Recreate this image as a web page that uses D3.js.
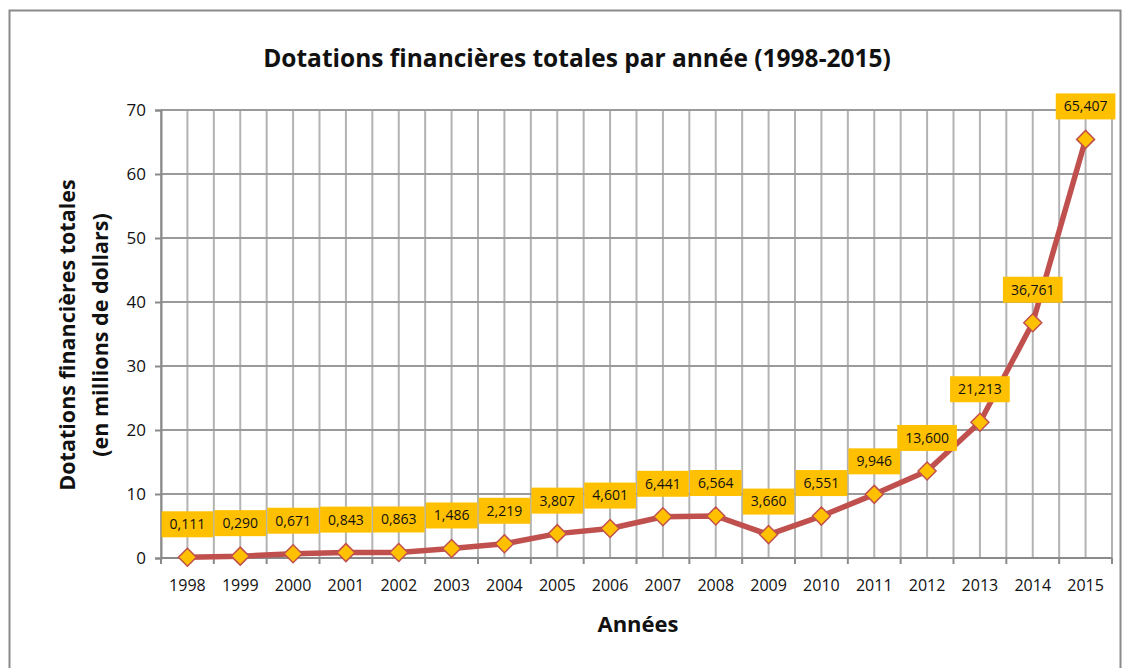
<!DOCTYPE html>
<html>
<head>
<meta charset="utf-8">
<script src="https://d3js.org/d3.v7.min.js"></script>
<style>
  body { margin: 0; background: #fff; }
  text { font-family: "Open Sans", Lato, sans-serif; fill: #111; }
</style>
</head>
<body>
<svg width="1134" height="668"></svg>
<script>
// data
const years = ["1998","1999","2000","2001","2002","2003","2004","2005","2006",
               "2007","2008","2009","2010","2011","2012","2013","2014","2015"];
const dotations = [0.111, 0.290, 0.671, 0.843, 0.863, 1.486, 2.219, 3.807, 4.601,
                   6.441, 6.564, 3.660, 6.551, 9.946, 13.600, 21.213, 36.761, 65.407];
const yTicks = [0, 10, 20, 30, 40, 50, 60, 70];

const svg = d3.select("svg");
const pLeft = 161, pRight = 1112, pTop = 110, pBottom = 558;
const red = "#c0504d", gold = "#ffc000";

// outer frame
svg.append("rect")
  .attr("x", 9.5).attr("y", 10.5)
  .attr("width", 1111).attr("height", 700)
  .attr("fill", "#fff").attr("stroke", "#8a8a8a").attr("stroke-width", 2);

var x = d3.scaleBand().domain(years).range([pLeft, pRight]);
var y = d3.scaleLinear().domain([0, 70]).range([pBottom, pTop]);

// vertical grid: boundaries and centres
var vx = [];
years.forEach(function(d) { vx.push(x(d)); vx.push(x(d) + x.bandwidth() / 2); });
vx.push(pRight);
svg.append("g").selectAll("line")
  .data(vx).enter().append("line")
  .attr("x1", d => d).attr("x2", d => d)
  .attr("y1", pTop).attr("y2", pBottom)
  .attr("stroke", "#b3b3b3").attr("stroke-width", 2);

// horizontal grid
svg.append("g").selectAll("line")
  .data(yTicks.slice(1)).enter().append("line")
  .attr("x1", pLeft).attr("x2", pRight)
  .attr("y1", d => y(d)).attr("y2", d => y(d))
  .attr("stroke", "#9a9a9a").attr("stroke-width", 2);

// y axis
var yAx = svg.append("g")
  .attr("transform", "translate(" + pLeft + ",0)")
  .call(d3.axisLeft(y).tickValues(yTicks).tickSize(6).tickPadding(9));
yAx.select(".domain").attr("stroke", "#8a8a8a").attr("stroke-width", 2);
yAx.selectAll(".tick line").attr("stroke", "#8a8a8a").attr("stroke-width", 2);
yAx.selectAll("text").style("font-size", "17px").attr("fill", "#111");

// x axis: ticks on category boundaries
var xAx = svg.append("g").attr("transform", "translate(0," + pBottom + ")");
xAx.append("line")
  .attr("x1", pLeft).attr("x2", pRight).attr("y1", 0).attr("y2", 0)
  .attr("stroke", "#8a8a8a").attr("stroke-width", 2);
xAx.selectAll(".tk")
  .data(years.map(d => x(d)).concat([pRight])).enter().append("line")
  .attr("x1", d => d).attr("x2", d => d).attr("y1", 0).attr("y2", 6)
  .attr("stroke", "#8a8a8a").attr("stroke-width", 2);
xAx.selectAll(".lbl")
  .data(years).enter().append("text")
  .attr("x", d => x(d) + x.bandwidth() / 2)
  .attr("y", 33)
  .attr("text-anchor", "middle")
  .style("font-size", "16px")
  .text(d => d);

// line
var cx = d => x(d.year) + x.bandwidth() / 2;
var pts = years.map((d, i) => ({year: d, v: dotations[i]}));
svg.append("path")
  .datum(pts)
  .attr("d", d3.line().x(cx).y(d => y(d.v)))
  .attr("fill", "none").attr("stroke", red)
  .attr("stroke-width", 5.5).attr("stroke-linejoin", "round");

// diamonds
svg.append("g").selectAll("path")
  .data(pts).enter().append("path")
  .attr("transform", d => "translate(" + cx(d) + "," + y(d.v) + ")")
  .attr("d", "M0,-9L9,0L0,9L-9,0Z")
  .attr("fill", gold).attr("stroke", red).attr("stroke-width", 1.5);

// data labels in gold boxes
var fr = d3.formatLocale({decimal: ",", thousands: " ", grouping: [3], currency: ["", ""]}).format(".3f");
var lab = svg.append("g").selectAll("g")
  .data(pts).enter().append("g")
  .attr("transform", d => "translate(" + cx(d) + "," + (y(d.v) - 33) + ")");
lab.append("text")
  .attr("text-anchor", "middle")
  .attr("dy", "0.35em")
  .style("font-size", "14px")
  .text(d => fr(d.v));
lab.each(function() {
  var g = d3.select(this);
  var w = g.select("text").node().getComputedTextLength() + 16;
  g.insert("rect", "text")
    .attr("x", -w / 2).attr("y", -13)
    .attr("width", w).attr("height", 26)
    .attr("fill", gold);
});

// titles
svg.append("text")
  .attr("x", 577).attr("y", 67)
  .attr("text-anchor", "middle")
  .style("font-size", "24.5px").style("font-weight", "bold")
  .text("Dotations financières totales par année (1998-2015)");

svg.append("text")
  .attr("x", 638).attr("y", 632)
  .attr("text-anchor", "middle")
  .style("font-size", "22px").style("font-weight", "bold")
  .text("Années");

var yl = svg.append("text")
  .attr("transform", "translate(84,335) rotate(-90)")
  .attr("text-anchor", "middle")
  .style("font-size", "21.5px").style("font-weight", "bold");
yl.append("tspan").attr("x", 0).attr("y", -9).text("Dotations financières totales");
yl.append("tspan").attr("x", 0).attr("y", 24).text("(en millions de dollars)");
</script>
</body>
</html>
